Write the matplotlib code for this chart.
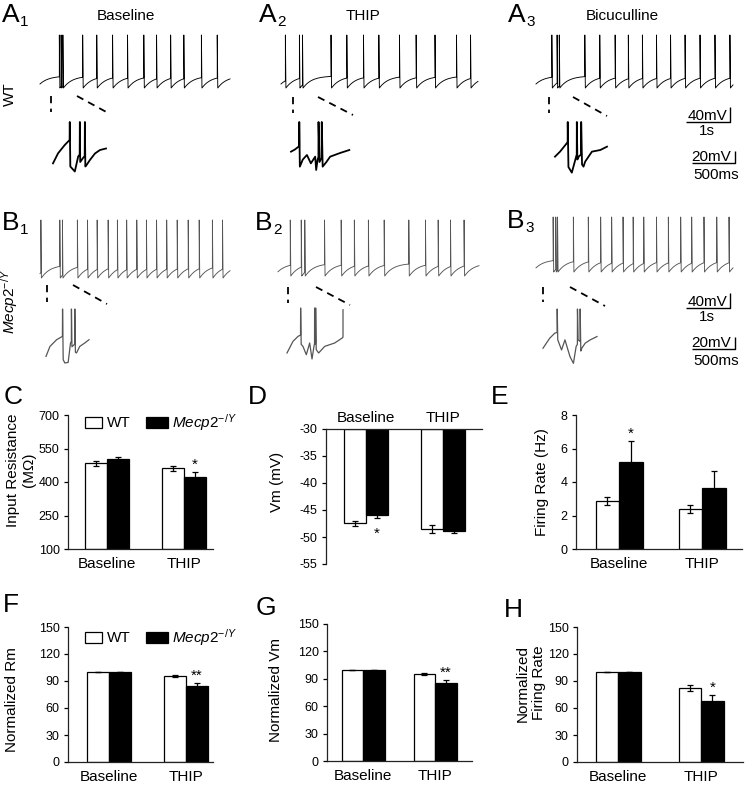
import numpy as np
import matplotlib
matplotlib.use('Agg')
import matplotlib.pyplot as plt
from matplotlib.patches import Rectangle

plt.rcParams['font.family'] = ['Liberation Sans', 'DejaVu Sans']
plt.rcParams['mathtext.fontset'] = 'custom'
plt.rcParams['mathtext.rm'] = 'Liberation Sans'
plt.rcParams['mathtext.it'] = 'Liberation Sans:italic'
plt.rcParams['axes.unicode_minus'] = False

W, H = 745, 786

# ------------------------------------------------------------------ data
groups = ['Baseline', 'THIP']
genotypes = ['WT', r'$\mathit{Mecp2}^{-/Y}$']

rin_wt, rin_wt_err = [483, 461], [10, 10]
rin_ko, rin_ko_err = [503, 424], [10, 22]
vm_wt, vm_wt_err = [-47.5, -48.5], [0.55, 0.7]
vm_ko, vm_ko_err = [-45.9, -48.9], [0.6, 0.4]
fr_wt, fr_wt_err = [2.88, 2.37], [0.25, 0.24]
fr_ko, fr_ko_err = [5.17, 3.62], [1.28, 1.05]
nrm_wt, nrm_wt_err = [100, 95.5], [0, 1.0]
nrm_ko, nrm_ko_err = [100, 84.5], [0, 3.8]
nvm_wt, nvm_wt_err = [100, 95.5], [0, 1.0]
nvm_ko, nvm_ko_err = [100, 85.0], [0, 4.0]
nfr_wt, nfr_wt_err = [100, 82.5], [0, 3.5]
nfr_ko, nfr_ko_err = [100, 68.0], [0, 6.3]

# spike times (s) of the long recordings
a1_spikes = [0.44, 0.48, 0.52, 0.97, 1.29, 1.65, 1.99, 2.36, 2.65, 2.97, 3.27, 3.67, 4.03]
a1_dur = 4.32
a2_spikes = [0.10, 0.42, 0.49, 1.14, 1.50, 1.88, 2.23, 2.70, 3.08, 3.51, 4.00, 4.32]
a2_dur = 4.49
a3_spikes = [0.36, 0.48, 0.53, 1.11, 1.45, 1.80, 2.10, 2.42, 2.74, 3.06, 3.39, 3.73, 4.07, 4.41]
a3_dur = 4.48
b1_spikes = [0.02, 0.45, 0.51, 0.85, 1.08, 1.30, 1.55, 1.76, 1.97, 2.20, 2.42, 2.65, 2.88,
             3.12, 3.37, 3.62, 3.92, 4.15]
b1_dur = 4.32
b2_spikes = [0.28, 0.53, 0.61, 1.06, 1.44, 1.74, 2.06, 2.42, 2.98, 3.36, 3.65, 3.93, 4.24]
b2_dur = 4.58
b3_spikes = [0.39, 0.45, 0.49, 0.85, 1.19, 1.47, 1.72, 1.98, 2.21, 2.45, 2.74, 3.01, 3.29,
             3.54, 3.82, 4.11, 4.39]
b3_dur = 4.48

# expanded bursts (time ms, voltage mV)
a1_in_t = [0, 57, 133, 188, 190, 196, 247, 285, 302, 304, 308, 340, 359, 361, 366, 380, 418, 475, 532, 600]
a1_in_v = [-52.7, -32.7, -16, -6, 30, -59, -69, -39, -35, 30, -50, -42, -38, 30, -59, -56, -46, -33, -26, -23]
a2_in_t = [0, 40, 77, 83, 84, 90, 120, 162, 202, 246, 256, 270, 279, 280, 290, 311, 313, 322, 360, 398, 499, 593]
a2_in_v = [-29.3, -25, -19.3, -18, 30, -59.3, -45, -36, -52.7, -39.3, -66, -46, -40, 30, -50, -42, 30, -59.3, -50, -39.3, -32, -26]
a3_in_t = [0, 58, 135, 146, 147, 155, 194, 244, 251, 252, 258, 275, 301, 302, 312, 329, 348, 426, 523, 600]
a3_in_v = [-39.3, -29.3, -12.7, -10, 30, -60, -71.3, -39.3, -35, 30, -45, -39, -35, 30, -55, -59.3, -49.3, -29.3, -26, -19.3]
b1_in_t = [0, 55, 148, 229, 231, 240, 263, 309, 342, 354, 355, 362, 400, 402, 410, 425, 471, 540, 600]
b1_in_v = [-57.8, -39.3, -26.9, -20.7, 30, -63.9, -70, -68.9, -33, -30, 30, -40, -35, 30, -50, -51.5, -39.3, -33, -26.9]
b2_in_t = [0, 64, 118, 145, 146, 152, 171, 207, 243, 268, 289, 295, 296, 302, 306, 307, 313, 339, 404, 511, 589, 600, 600]
b2_in_v = [-56.5, -34.2, -24.6, -22, 30, -40, -43.8, -59.8, -37.3, -68.1, -43.8, -38, 30, -40, -37, 30, -50, -56.5, -43.8, -37.3, -28, -26, 26.7]
b3_in_t = [0, 75, 131, 157, 158, 164, 206, 244, 300, 338, 368, 382, 383, 390, 412, 413, 420, 431, 469, 525, 600]
b3_in_v = [-40, -22.1, -13.1, -12, 30, -25.1, -43.1, -25.1, -55.1, -67, -37.1, -33, 30, -25.1, -28, 30, -45, -40, -31, -25.1, -19.2]

# ------------------------------------------------------------------ helpers
fig = plt.figure(figsize=(W / 100, H / 100), dpi=100)
ov = fig.add_axes([0, 0, 1, 1])
ov.set_xlim(0, W)
ov.set_ylim(H, 0)
ov.axis('off')


def px_axes(x0, y0, x1, y1):
    return fig.add_axes([x0 / W, 1 - y1 / H, (x1 - x0) / W, (y1 - y0) / H])


def spike_trace(spikes, t_end, v_start, thr=-41.0, ahp=-62.0, peak=30.0, tau=0.2, width=0.012):
    t, v = [0.0], [v_start]
    tp, vp = 0.0, v_start
    for s in spikes:
        if s > tp:
            tt = np.linspace(tp, s, 30)[1:]
            vv = thr - (thr - vp) * np.exp(-(tt - tp) / tau)
            t.extend(tt)
            v.extend(vv)
        t.append(s)
        v.append(peak)
        t.append(s + width)
        v.append(ahp)
        tp, vp = s + width, ahp
    tt = np.linspace(tp, t_end, 30)[1:]
    t.extend(tt)
    v.extend(thr - (thr - vp) * np.exp(-(tt - tp) / tau))
    return np.array(t), np.array(v)


def main_trace(x0, x1, y_peak, y_trough, spikes, dur, color, lw, v_start=-55):
    ax = px_axes(x0, y_peak, x1, y_trough)
    t, v = spike_trace(spikes, dur, v_start)
    ax.plot(t, v, color=color, lw=lw, clip_on=False)
    ax.set_xlim(0, dur)
    ax.set_ylim(-62, 30)
    ax.axis('off')


def inset_trace(x0, x1, y_top, y_bot, t, v, color, lw):
    ax = px_axes(x0, y_top, x1, y_bot)
    ax.plot(t, v, color=color, lw=lw, clip_on=False, solid_joinstyle='round')
    ax.set_xlim(0, 600)
    ax.set_ylim(-70, 30)
    ax.axis('off')


A_COL, B_COL = 'black', '#555555'

# ------------------------------------------------------------------ traces
main_trace(40, 230, 35, 88, a1_spikes, a1_dur, A_COL, 0.65)
main_trace(281, 478, 35, 88, a2_spikes, a2_dur, A_COL, 0.65)
main_trace(536, 733, 35, 88, a3_spikes, a3_dur, A_COL, 0.65)
main_trace(40, 230, 220, 278, b1_spikes, b1_dur, B_COL, 0.65)
main_trace(278, 479, 220, 276, b2_spikes, b2_dur, B_COL, 0.65)
main_trace(536, 733, 217, 272, b3_spikes, b3_dur, B_COL, 0.65)

inset_trace(53, 106, 122, 172, a1_in_t, a1_in_v, A_COL, 1.3)
inset_trace(291, 350, 122, 172, a2_in_t, a2_in_v, A_COL, 1.3)
inset_trace(555, 607, 122, 172, a3_in_t, a3_in_v, A_COL, 1.3)
inset_trace(46, 89, 309, 363, b1_in_t, b1_in_v, B_COL, 0.9)
inset_trace(287, 343, 308, 360, b2_in_t, b2_in_v, B_COL, 0.9)
inset_trace(543, 597, 309, 365, b3_in_t, b3_in_v, B_COL, 0.9)

# zoom indicator dashes
dash_kw = dict(color='black', lw=1.3, ls=(0, (4, 3)))
for (vx, vy0, vy1, dx0, dy0, dx1, dy1) in [
        (51, 96, 112, 77, 96, 110, 114),
        (293, 97, 113, 318, 97, 353, 115),
        (549, 97, 113, 573, 97, 607, 116),
        (47, 285, 302, 73, 285, 107, 304),
        (288, 287, 303, 316, 287, 350, 305),
        (543, 287, 302, 570, 287, 605, 306)]:
    ov.plot([vx, vx], [vy0, vy1], **dash_kw)
    ov.plot([dx0, dx1], [dy0, dy1], **dash_kw)

# scale bars
sb_kw = dict(color='black', lw=1.0, solid_capstyle='butt')
for yo in (0, 186):
    ov.plot([686, 730, 730], [122 + yo, 122 + yo, 107 + yo], **sb_kw)
    ov.text(727, 120 + yo, '40mV', ha='right', va='baseline', fontsize=11)
    ov.text(707, 131 + yo, '1s', ha='center', va='center', fontsize=11)
    ov.plot([692, 735, 735], [163 + yo, 163 + yo, 151 + yo], **sb_kw)
    ov.text(731, 161 + yo, '20mV', ha='right', va='baseline', fontsize=11)
    ov.text(716, 175 + yo, '500ms', ha='center', va='center', fontsize=11)

# panel letters for traces
for (x, y, L, sub) in [(2, 22, 'A', '1'), (259, 22, 'A', '2'), (508, 22, 'A', '3'),
                       (2, 230, 'B', '1'), (255, 230, 'B', '2'), (507, 228, 'B', '3')]:
    ov.text(x, y, L, fontsize=19, va='baseline', ha='left')
    ov.text(x + 18, y + 3.5, sub, fontsize=11, va='baseline', ha='left')

ov.text(126, 16, 'Baseline', ha='center', va='center', fontsize=11)
ov.text(363, 16, 'THIP', ha='center', va='center', fontsize=11)
ov.text(622, 16, 'Bicuculline', ha='center', va='center', fontsize=11)
ov.text(10, 94, 'WT', rotation=90, ha='center', va='center', fontsize=11)
ov.text(10, 302, genotypes[1], rotation=90, ha='center', va='center', fontsize=11)

# ------------------------------------------------------------------ bar panels
AXC = '#222222'


def bar_axes(xl, xr, yt, yb, ylim, yticks, c0, c1, bw):
    sep = c1 - c0
    ax = px_axes(xl, yt, xr, yb)
    ax.set_xlim((xl - c0) / sep, (xr - c0) / sep)
    ax.set_ylim(*ylim)
    ax.set_yticks(yticks)
    for s in ax.spines.values():
        s.set_color(AXC)
        s.set_linewidth(0.9)
    ax.spines['right'].set_visible(False)
    ax.spines['top'].set_visible(False)
    ax.tick_params(axis='y', direction='out', length=3, width=0.9, labelsize=9, pad=3, colors='black')
    ax.tick_params(axis='x', length=0, labelsize=11, pad=6)
    ax.set_xticks(np.arange(len(groups)))
    ax.set_xticklabels(groups)
    ax.set_facecolor('none')
    return ax, bw / sep


def draw_bars(ax, w, wt, wt_err, ko, ko_err, bottom=0.0):
    x = np.arange(len(groups))
    ekw = dict(ecolor='black', elinewidth=0.9, capsize=2, capthick=0.9)
    ax.bar(x - w / 2, np.array(wt) - bottom, w, bottom=bottom, color='white', edgecolor='black',
           lw=0.9, yerr=wt_err, error_kw=ekw, zorder=2)
    ax.bar(x + w / 2, np.array(ko) - bottom, w, bottom=bottom, color='black', edgecolor='black',
           lw=0.9, yerr=ko_err, error_kw=ekw, zorder=2)
    return x


def star(ax, x, y, s, dy=0.0, va='bottom'):
    ax.annotate(s, xy=(x, y), xytext=(0, dy), textcoords='offset points', ha='center', va=va,
                fontsize=11)


def ylab(ax, text, xr, yc):
    ax.set_ylabel(text, fontsize=11)
    ax.yaxis.set_label_coords(xr, yc, transform=ov.transData)


# C
axC, w = bar_axes(68, 213, 415, 549, (100, 700), [100, 250, 400, 550, 700], 107, 184, 22)
x = draw_bars(axC, w, rin_wt, rin_wt_err, rin_ko, rin_ko_err, bottom=100)
star(axC, x[1] + w / 2, rin_ko[1] + rin_ko_err[1], '*')
ylab(axC, 'Input Resistance\n(M\u03a9)', 36, 470)

# D
axD, w = bar_axes(326, 482, 429, 564, (-55, -30), [-55, -50, -45, -40, -35, -30], 366, 443, 22)
axD.spines['top'].set_visible(True)
axD.spines['bottom'].set_visible(False)
axD.xaxis.tick_top()
axD.tick_params(axis='x', length=0, labelsize=11, pad=3)
x = draw_bars(axD, w, vm_wt, vm_wt_err, vm_ko, vm_ko_err, bottom=-30)
star(axD, x[0] + w / 2, vm_ko[0] - vm_ko_err[0], '*', dy=-6, va='top')
ylab(axD, 'Vm (mV)', 284, 482)

# E
axE, w = bar_axes(576, 742, 415, 549, (0, 8), [0, 2, 4, 6, 8], 619, 702, 23.5)
x = draw_bars(axE, w, fr_wt, fr_wt_err, fr_ko, fr_ko_err)
star(axE, x[0] + w / 2, fr_ko[0] + fr_ko_err[0], '*')
ylab(axE, 'Firing Rate (Hz)', 549, 482)

# F
axF, w = bar_axes(68, 213, 627, 762, (0, 150), [0, 30, 60, 90, 120, 150], 109, 186, 22)
x = draw_bars(axF, w, nrm_wt, nrm_wt_err, nrm_ko, nrm_ko_err)
star(axF, x[1] + w / 2, nrm_ko[1] + nrm_ko_err[1], '**')
ylab(axF, 'Normalized Rm', 19, 700)

# G
axG, w = bar_axes(327, 472, 624, 761, (0, 150), [0, 30, 60, 90, 120, 150], 363, 435, 21.5)
x = draw_bars(axG, w, nvm_wt, nvm_wt_err, nvm_ko, nvm_ko_err)
star(axG, x[1] + w / 2, nvm_ko[1] + nvm_ko_err[1], '**')
ylab(axG, 'Normalized Vm', 283, 690)

# H
axH, w = bar_axes(577, 743, 627, 762, (0, 150), [0, 30, 60, 90, 120, 150], 618, 701, 22.5)
x = draw_bars(axH, w, nfr_wt, nfr_wt_err, nfr_ko, nfr_ko_err)
star(axH, x[1] + w / 2, nfr_ko[1] + nfr_ko_err[1], '*')
ylab(axH, 'Normalized\nFiring Rate', 546, 683)

# legends (C and F)
for yl in (417, 632):
    ov.add_patch(Rectangle((85, yl), 17, 11, facecolor='white', edgecolor='black', lw=0.9))
    ov.text(107, yl + 6, genotypes[0], ha='left', va='center', fontsize=11)
    ov.add_patch(Rectangle((146, yl), 22, 11, facecolor='black', edgecolor='black', lw=0.9))
    ov.text(172, yl + 5.5, genotypes[1], ha='left', va='center', fontsize=11)

# panel letters
for (x0, y0, L) in [(4, 404, 'C'), (248, 404, 'D'), (491, 404, 'E'),
                    (3, 612, 'F'), (256, 615, 'G'), (504, 617, 'H')]:
    ov.text(x0, y0, L, fontsize=19, va='baseline', ha='left')

fig.savefig('out.png', dpi=100)
